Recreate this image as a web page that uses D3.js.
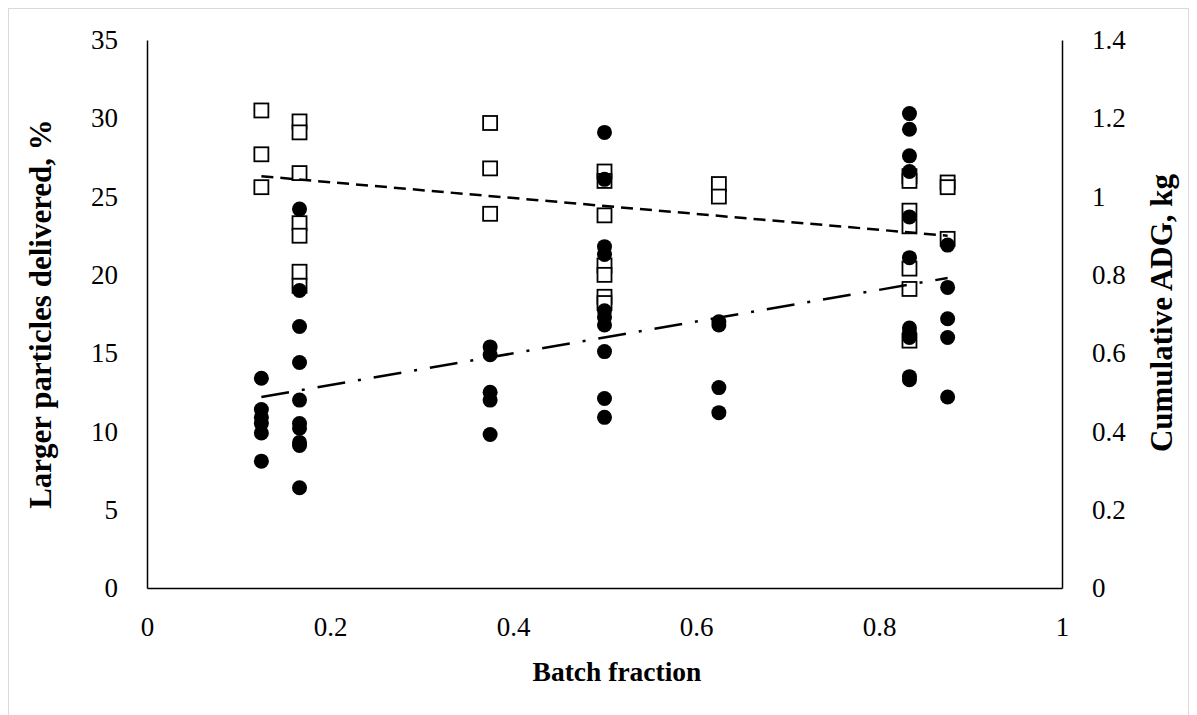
<!DOCTYPE html>
<html>
<head>
<meta charset="utf-8">
<script src="https://cdn.jsdelivr.net/npm/d3@7"></script>
<style>
  html, body { margin: 0; padding: 0; background: #fff; }
  svg { display: block; }
  text { font-family: "Liberation Serif", "Times New Roman", serif; fill: #000; }
</style>
</head>
<body>
<svg id="chart" width="1197" height="715"></svg>
<script>
// ---- data ----
const batchFractions = [0.125, 0.1667, 0.375, 0.5, 0.625, 0.8333, 0.875];
// Larger particles delivered, % (open squares, left axis)
const particlesPct = [
  [30.5, 27.7, 25.6],
  [29.8, 29.1, 26.5, 23.3, 22.5, 20.2, 19.3],
  [29.7, 26.8, 23.9],
  [26.6, 26.0, 23.8, 20.6, 20.0, 18.6, 18.2],
  [25.8, 25.0],
  [26.3, 26.0, 24.1, 23.1, 20.4, 19.1, 15.8],
  [25.9, 25.6, 22.3]
];
// Cumulative ADG, kg (filled circles, right axis)
const adgKg = [
  [0.536, 0.456, 0.436, 0.420, 0.396, 0.324],
  [0.968, 0.760, 0.668, 0.576, 0.480, 0.420, 0.408, 0.372, 0.364, 0.256],
  [0.616, 0.596, 0.500, 0.480, 0.392],
  [1.164, 1.044, 0.872, 0.852, 0.708, 0.692, 0.672, 0.604, 0.484, 0.436],
  [0.680, 0.672, 0.512, 0.448],
  [1.212, 1.172, 1.104, 1.064, 0.948, 0.844, 0.664, 0.652, 0.640, 0.540, 0.532],
  [0.876, 0.768, 0.688, 0.640, 0.488]
];
// Linear trend lines (endpoints)
const particlesTrendX = [0.125, 0.875];
const particlesTrendY = [26.3, 22.5];
const adgTrendX = [0.125, 0.875];
const adgTrendY = [0.488, 0.792];
// Ticks
const xTicks = [0, 0.2, 0.4, 0.6, 0.8, 1];
const yLeftTicks = [0, 5, 10, 15, 20, 25, 30, 35];
const yRightTicks = [0, 0.2, 0.4, 0.6, 0.8, 1, 1.2, 1.4];
const xTitle = "Batch fraction";
const yLeftTitle = "Larger particles delivered, %";
const yRightTitle = "Cumulative ADG, kg";

// ---- drawing ----
const svg = d3.select("#chart");
const x = d3.scaleLinear().domain([0, 1]).range([147, 1062]);
const yL = d3.scaleLinear().domain([0, 35]).range([588, 40]);
const yR = d3.scaleLinear().domain([0, 1.4]).range([588, 40]);

// outer border
svg.append("rect").attr("x", 8.5).attr("y", 8.5).attr("width", 1180).attr("height", 720)
  .attr("fill", "none").attr("stroke", "#d9d9d9").attr("stroke-width", 1);

const fmt = d => String(d);
const fontSize = 27;

const gx = svg.append("g").attr("transform", "translate(0,588)")
  .call(d3.axisBottom(x).tickValues(xTicks).tickFormat(fmt).tickSize(0).tickPadding(29));
const gl = svg.append("g").attr("transform", "translate(147,0)")
  .call(d3.axisLeft(yL).tickValues(yLeftTicks).tickFormat(fmt).tickSize(0).tickPadding(29));
const gr = svg.append("g").attr("transform", "translate(1062,0)")
  .call(d3.axisRight(yR).tickValues(yRightTicks).tickFormat(fmt).tickSize(0).tickPadding(30));

[gx, gl, gr].forEach(g => {
  g.attr("font-family", null);
  g.select(".domain").attr("stroke", "#000").attr("stroke-width", 1.5);
  g.selectAll("text").style("font-family", '"Liberation Serif", serif')
    .style("font-size", fontSize + "px").attr("fill", "#000");
});

// squares (drawn first)
const sqData = [];
batchFractions.forEach((bf, i) => particlesPct[i].forEach(v => sqData.push({ bf, v })));
const sq = 14;
svg.append("g").selectAll("rect").data(sqData).join("rect")
  .attr("x", d => x(d.bf) - sq / 2).attr("y", d => yL(d.v) - sq / 2)
  .attr("width", sq).attr("height", sq)
  .attr("fill", "#fff").attr("stroke", "#000").attr("stroke-width", 1.8);

// circles
const ciData = [];
batchFractions.forEach((bf, i) => adgKg[i].forEach(v => ciData.push({ bf, v })));
svg.append("g").selectAll("circle").data(ciData).join("circle")
  .attr("cx", d => x(d.bf)).attr("cy", d => yR(d.v)).attr("r", 7.5)
  .attr("fill", "#000");

// trend lines
const lineL = d3.line().x(d => x(d[0])).y(d => yL(d[1]));
const lineR = d3.line().x(d => x(d[0])).y(d => yR(d[1]));
svg.append("path").datum(particlesTrendX.map((v, i) => [v, particlesTrendY[i]]))
  .attr("d", lineL).attr("fill", "none").attr("stroke", "#000")
  .attr("stroke-width", 2.5).attr("stroke-dasharray", "12,7");
svg.append("path").datum(adgTrendX.map((v, i) => [v, adgTrendY[i]]))
  .attr("d", lineR).attr("fill", "none").attr("stroke", "#000")
  .attr("stroke-width", 2.5).attr("stroke-dasharray", "28,13,3,13");

// titles
svg.append("text").attr("x", 617).attr("y", 681).attr("text-anchor", "middle")
  .style("font-size", "27.5px").style("font-weight", "bold").text(xTitle);
svg.append("text").attr("transform", "translate(51,314) rotate(-90)").attr("text-anchor", "middle")
  .style("font-size", "31px").style("font-weight", "bold").text(yLeftTitle);
svg.append("text").attr("transform", "translate(1172,313) rotate(-90)").attr("text-anchor", "middle")
  .style("font-size", "31px").style("font-weight", "bold").text(yRightTitle);
</script>
</body>
</html>
